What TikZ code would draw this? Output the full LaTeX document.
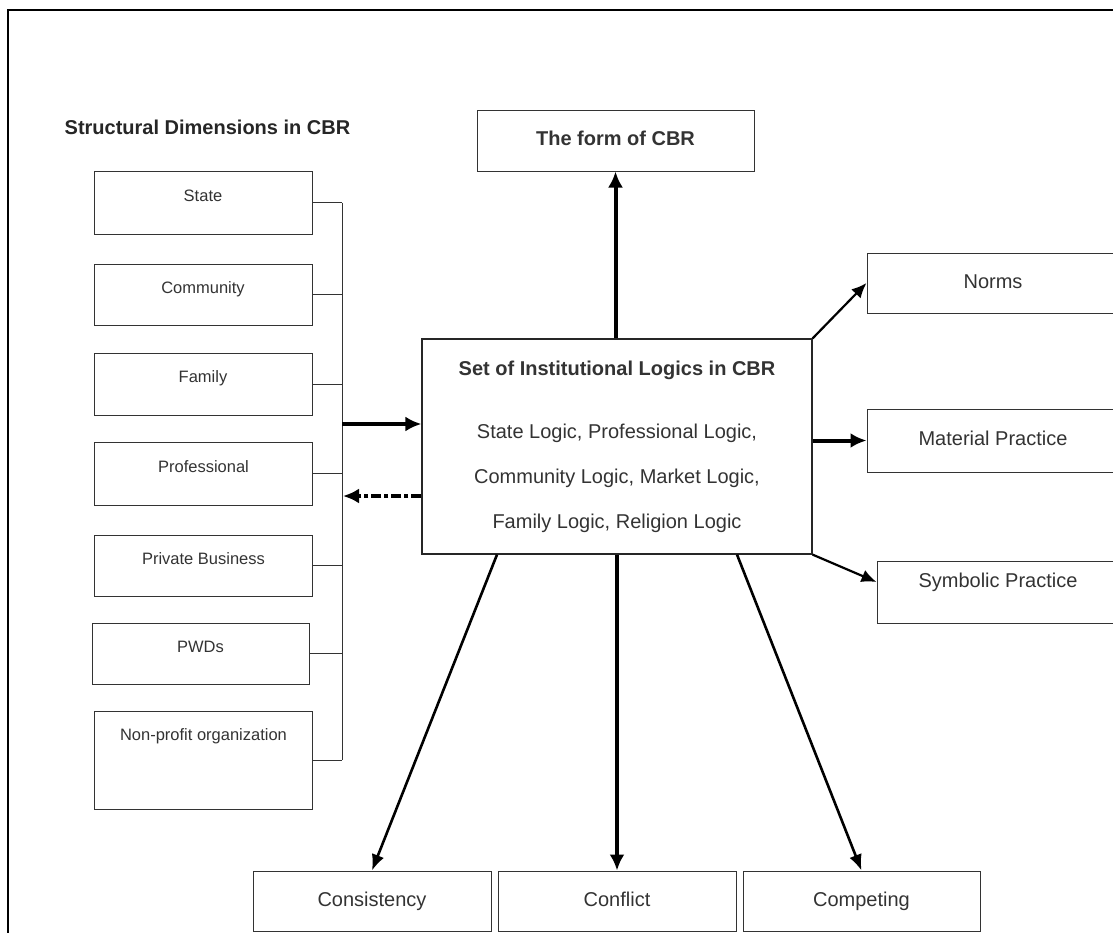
\documentclass[tikz,border=0pt]{standalone}
\usepackage{fontspec}
\setmainfont{Liberation Sans}
\usetikzlibrary{arrows.meta}

\tikzset{
  dimbox/.style={draw=black!80, line width=1pt, minimum width=218pt, minimum height=62pt,
    inner sep=0pt, font=\fontsize{16.5}{19}\selectfont, text=black!80,
    text height=12pt, text depth=15pt},
  outbox/.style={draw=black!80, line width=1pt, inner sep=0pt,
    font=\fontsize{20}{24}\selectfont, text=black!80, text height=14pt, text depth=4pt},
  boldarrow/.style={line width=4pt, -{Latex[length=16pt,width=15pt]}},
  midarrow/.style={line width=2.6pt, -{Latex[length=16pt,width=13pt]}},
  thinarrow/.style={line width=2.2pt, -{Latex[length=15pt,width=13pt]}},
  dasharrow/.style={line width=3.4pt, dash pattern=on 10pt off 3pt on 4pt off 3pt,
    -{Latex[length=16pt,width=15pt]}},
}

\begin{document}
\begin{tikzpicture}[x=1pt,y=-1pt]
    \useasboundingbox (0,0) rectangle (1113,932);
    \clip (0,0) rectangle (1113,932);
    \draw[line width=1.6pt] (8,10) rectangle (1130,950);

    % structural dimensions
    \node[font=\bfseries\fontsize{20}{24}\selectfont, text=black!85] (dimtitle) at (207.5,127) {Structural Dimensions in CBR};
    \node[dimbox, minimum height=63pt] (state) at (203,202.5) {State};
    \node[dimbox, minimum height=61pt] (community) at (203,294.5) {Community};
    \node[dimbox] (family) at (203,384) {Family};
    \node[dimbox, minimum height=63pt] (professional) at (203.5,473.5) {Professional};
    \node[dimbox, minimum height=61pt] (private) at (203.5,565.5) {Private Business};
    \node[dimbox, minimum height=61pt, minimum width=217pt] (pwds) at (200.5,653.5) {PWDs};
    \node[dimbox, minimum height=98pt, text depth=50.5pt] (nonprofit) at (203.5,760) {Non-profit organization};

    \coordinate (bus) at (342,0);
    \foreach \n in {state,community,family,professional,private,pwds,nonprofit}
    {
        \draw[line width=1pt, black!80] (\n.east) -- (\n.east -| bus);
    }
    \draw[line width=1pt, black!80] (state.east -| bus) -- (nonprofit.east -| bus);

    % institutional logics
    \node[draw=black!85, line width=1.2pt, minimum width=390pt, minimum height=215pt, align=center,
        font=\fontsize{20}{45}\selectfont, text=black!80] (logics) at (617,446.5)
        {\textbf{Set of Institutional Logics in CBR}\\[18pt]
         State Logic, Professional Logic,\\
         Community Logic, Market Logic,\\
         Family Logic, Religion Logic};

    \node[outbox, font=\bfseries\fontsize{20}{24}\selectfont, minimum width=277pt, minimum height=61pt] (form) at (615.5,140.5) {The form of CBR};

    \node[outbox, minimum width=252pt, minimum height=60pt] (norms) at (993,283) {Norms};
    \node[outbox, minimum width=252pt, minimum height=63pt] (material) at (993,440.5) {Material Practice};
    \node[outbox, minimum width=242pt, minimum height=62pt, text depth=23.6pt] (symbolic) at (998,592) {Symbolic Practice};

    \node[outbox, minimum width=238pt, minimum height=60pt] (consistency) at (372,901) {Consistency};
    \node[outbox, minimum width=238pt, minimum height=60pt] (conflict) at (617,901) {Conflict};
    \node[outbox, minimum width=237pt, minimum height=60pt] (competing) at (861.5,901) {Competing};

    % arrows
    \coordinate (busin) at (342,424);
    \coordinate (busout) at (343,496);
    \draw[boldarrow] (busin) -- (logics.west |- busin);
    \draw[dasharrow] (logics.west |- busout) -- (busout);
    \draw[boldarrow] (logics.north -| form) -- (form.south);
    \draw[thinarrow] (logics.north east) -- (norms.west);
    \draw[boldarrow] (logics.east |- material) -- (material.west);
    \draw[thinarrow] (logics.south east) -- ([yshift=10pt]symbolic.west);
    \draw[midarrow] ([xshift=-120pt]logics.south) -- (consistency.north);
    \draw[boldarrow] (logics.south) -- (conflict.north);
    \draw[midarrow] ([xshift=120pt]logics.south) -- (competing.north);
\end{tikzpicture}
\end{document}
